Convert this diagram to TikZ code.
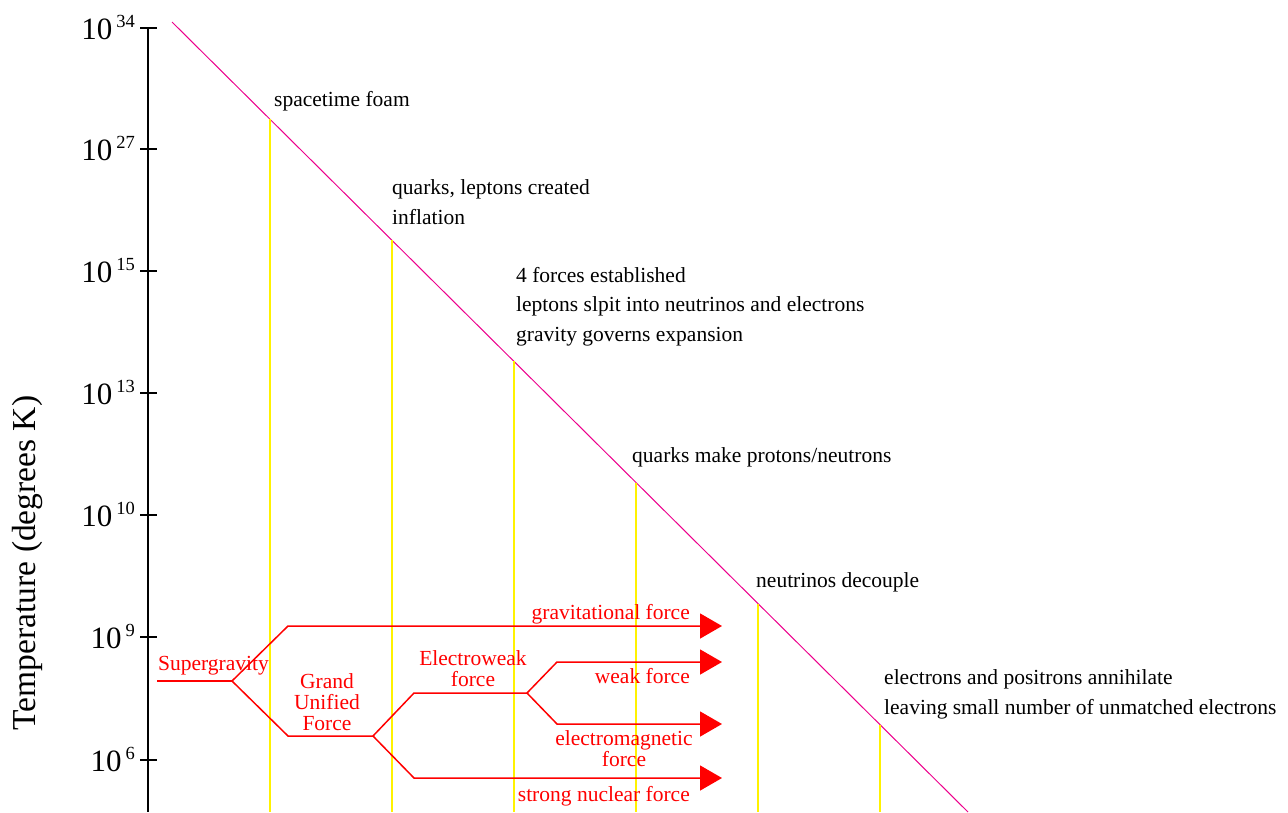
\documentclass[tikz,border=0pt]{standalone}
\usepackage{fontspec}
\setmainfont{Liberation Serif}
\usetikzlibrary{arrows.meta}
\newcommand{\ticklab}[1]{{\fontsize{31}{31}\selectfont 10}\kern4pt\raisebox{12pt}{\fontsize{18.5}{18.5}\selectfont #1}}
\tikzset{
  axisline/.style={black, line width=1.5pt},
  coolline/.style={magenta, line width=1pt},
  epochline/.style={yellow, line width=1.2pt},
  force/.style={red, line width=1.5pt},
  forcearrow/.style={force, -{Triangle[length=22pt,width=25pt]}},
  evtext/.style={font=\fontsize{21.5}{29.5}\selectfont, anchor=base west, inner sep=0pt, align=left},
  redtext/.style={red, font=\fontsize{21.5}{21}\selectfont, inner sep=0pt, align=center},
  ticktext/.style={anchor=base east, inner sep=0pt},
}
\begin{document}
\begin{tikzpicture}[x=1pt,y=-1pt]
\useasboundingbox (0,0) rectangle (1288,812);
% axis
\coordinate (axtop) at (148,28);
\coordinate (axbot) at (148,812);
\draw[axisline] (axtop) -- (axbot);
\foreach \yy/\ee/\nm in {28/34/a,149/27/b,271/15/c,393/13/d,515/10/e,637/9/f,760/6/g}{
  \draw[axisline] (140,\yy) -- (157,\yy);
  \node[ticktext] (t\nm) at (135,\yy+11) {\ticklab{\ee}};
}
\node[rotate=90, font=\fontsize{33.5}{33.5}\selectfont] (ylab) at (27,563) {Temperature (degrees K)};
% cooling line
\coordinate (ctop) at (172,22);
\coordinate (cbot) at (968,812);
\draw[coolline] (ctop) -- (cbot);
% epoch lines
\foreach \xx/\nm in {270/1,392/2,514/3,636/4,758/5,880/6}{
  \coordinate (e\nm) at ({\xx},{22+(\xx-172)*0.9925});
  \coordinate (eb\nm) at (\xx,812);
  \draw[epochline] (e\nm) -- (eb\nm);
}
% event labels (base = baseline of last line)
\node[evtext] (l1) at (274,106) {spacetime foam};
\node[evtext] (l2) at (392,224) {quarks, leptons created\\inflation};
\node[evtext] (l3) at (516,341) {4 forces established\\leptons slpit into neutrinos and electrons\\gravity governs expansion};
\node[evtext] (l4) at (632,462) {quarks make protons/neutrons};
\node[evtext] (l5) at (756,587) {neutrinos decouple};
\node[evtext] (l6) at (884,714) {electrons and positrons annihilate\\leaving small number of unmatched electrons};
% forces
\coordinate (sg0) at (157,681);
\coordinate (sg) at (232,681);
\coordinate (gr0) at (288,626);
\coordinate (gr1) at (722,626);
\coordinate (gu0) at (288,736);
\coordinate (gu) at (373,736);
\coordinate (ew0) at (414,693);
\coordinate (ew) at (527,693);
\coordinate (st0) at (414,778);
\coordinate (st1) at (722,778);
\coordinate (wk0) at (557,662);
\coordinate (wk1) at (722,662);
\coordinate (em0) at (557,724);
\coordinate (em1) at (722,724);
\draw[force] (sg0) -- (sg);
\draw[forcearrow] (sg) -- (gr0) -- (gr1);
\draw[force] (sg) -- (gu0) -- (gu);
\draw[force] (gu) -- (ew0) -- (ew);
\draw[forcearrow] (gu) -- (st0) -- (st1);
\draw[forcearrow] (ew) -- (wk0) -- (wk1);
\draw[forcearrow] (ew) -- (em0) -- (em1);
\node[redtext, anchor=base west] (sgl) at (158,670) {Supergravity};
\node[redtext] (gul) at (327,702) {Grand\\Unified\\Force};
\node[redtext] (ewl) at (473,669) {Electroweak\\force};
\node[redtext, anchor=east] (grl) at (690,614) {gravitational force};
\node[redtext, anchor=east] (wkl) at (690,676) {weak force};
\node[redtext] (eml) at (624,749) {electromagnetic\\force};
\node[redtext, anchor=east] (stl) at (690,796) {strong nuclear force};
\end{tikzpicture}
\end{document}
